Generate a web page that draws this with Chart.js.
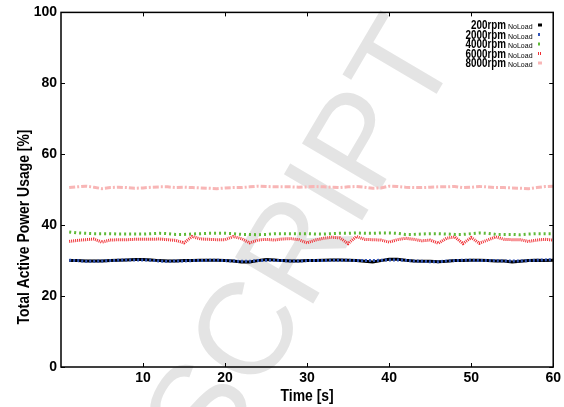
<!DOCTYPE html>
<html>
<head>
<meta charset="utf-8">
<script src="https://cdn.jsdelivr.net/npm/chart.js@4.4.1/dist/chart.umd.min.js"></script>
<style>
html, body { margin: 0; padding: 0; background: #fff; }
</style>
</head>
<body>
<canvas id="graphe" width="564" height="407"></canvas>
<script>
const temps = [1, 2, 3, 4, 5, 6, 7, 8, 9, 10, 11, 12, 13, 14, 15, 16, 17, 18, 19, 20,
    21, 22, 23, 24, 25, 26, 27, 28, 29, 30, 31, 32, 33, 34, 35, 36, 37, 38, 39, 40,
    41, 42, 43, 44, 45, 46, 47, 48, 49, 50, 51, 52, 53, 54, 55, 56, 57, 58, 59, 60]

const rpm200 = [30.0, 30.0, 29.9, 29.9, 29.9, 30.0, 30.1, 30.2, 30.3, 30.3,
    30.2, 30.0, 29.9, 29.9, 30.0, 30.0, 30.1, 30.1, 30.1, 30.0,
    29.9, 29.6, 29.6, 30.0, 30.3, 30.2, 30.0, 29.9, 29.9, 30.0,
    30.0, 30.1, 30.2, 30.2, 30.1, 30.0, 29.8, 29.6, 30.0, 30.4,
    30.4, 30.1, 29.9, 29.8, 29.8, 29.7, 29.8, 30.0, 30.0, 30.1,
    30.1, 30.0, 29.9, 29.9, 29.6, 29.8, 30.0, 30.1, 30.0, 30.1]
const rpm2000 = [30.1, 30.0, 29.8, 29.8, 29.9, 30.0, 30.1, 30.2, 30.2, 30.2,
    30.1, 29.9, 29.8, 29.9, 29.9, 30.0, 30.0, 30.1, 30.1, 30.0,
    29.9, 29.8, 29.8, 30.0, 30.1, 30.1, 30.0, 29.9, 29.9, 30.0,
    30.0, 30.0, 30.1, 30.1, 30.1, 30.0, 30.0, 30.0, 30.1, 30.2,
    30.2, 30.1, 29.9, 29.8, 29.7, 29.7, 29.9, 30.0, 30.1, 30.1,
    30.0, 30.0, 30.0, 29.9, 29.9, 29.9, 30.0, 30.1, 30.2, 30.3]
const rpm4000 = [38.1, 37.8, 37.7, 37.6, 37.6, 37.6, 37.5, 37.5, 37.5, 37.5,
    37.6, 37.7, 37.6, 37.4, 37.4, 37.5, 37.6, 37.7, 37.7, 37.7,
    37.6, 37.4, 37.4, 37.3, 37.4, 37.6, 37.6, 37.6, 37.6, 37.6,
    37.5, 37.5, 37.6, 37.7, 37.7, 37.8, 37.7, 37.7, 37.8, 37.8,
    37.7, 37.4, 37.4, 37.5, 37.6, 37.6, 37.5, 37.4, 37.4, 37.6,
    37.8, 37.7, 37.4, 37.4, 37.4, 37.3, 37.5, 37.6, 37.6, 37.6]
const rpm6000 = [35.4, 35.7, 35.9, 36.1, 35.2, 35.8, 35.9, 35.9, 36.0, 36.0,
    36.0, 36.1, 35.9, 35.7, 35.0, 36.8, 36.1, 36.0, 35.9, 35.9,
    36.8, 36.2, 35.0, 35.8, 36.0, 35.8, 36.1, 36.2, 35.9, 35.0,
    35.8, 36.3, 36.6, 36.4, 34.8, 36.8, 36.0, 35.9, 35.8, 35.2,
    35.9, 36.3, 36.0, 35.6, 35.8, 34.9, 36.3, 36.7, 34.8, 36.5,
    34.9, 35.8, 36.7, 36.0, 35.9, 35.9, 35.4, 35.8, 36.0, 35.8]
const rpm8000 = [50.6, 50.8, 51.0, 50.7, 50.3, 50.6, 50.7, 50.6, 50.4, 50.5,
    50.7, 50.8, 50.8, 50.6, 50.7, 50.6, 50.5, 50.4, 50.3, 50.5,
    50.6, 50.6, 50.8, 51.0, 50.9, 50.8, 50.8, 50.8, 50.7, 50.8,
    50.9, 50.8, 50.7, 50.6, 50.8, 50.9, 50.7, 50.4, 50.5, 51.0,
    50.9, 50.7, 50.6, 50.6, 50.7, 50.8, 50.8, 50.9, 50.6, 50.7,
    50.9, 50.8, 50.6, 50.6, 50.5, 50.4, 50.3, 50.6, 50.9, 51.0]

const noms = ['200rpm', '2000rpm', '4000rpm', '6000rpm', '8000rpm']
const suffixe = 'NoLoad'
const graduations_x = [10, 20, 30, 40, 50, 60]
const graduations_y = [0, 20, 40, 60, 80, 100]

const series = [rpm200, rpm2000, rpm4000, rpm6000, rpm8000]
const couleurs = ['#000000', 'rgb(50, 85, 185)', 'rgb(95, 185, 55)', 'rgb(240, 45, 50)', 'rgb(248, 182, 182)']
const tirets = [[], [2, 2], [2, 3], [1, 1], [6, 2, 2, 2]]
const police = "'Liberation Sans', Arial, sans-serif"

let datasets = []
series.forEach((valeurs, i) => {
    let points = []
    for (let k = 0; k < temps.length; k++) {
        points.push({ x: temps[k], y: valeurs[k] })
    }
    datasets.push({
        label: noms[i],
        data: points,
        borderColor: couleurs[i],
        backgroundColor: couleurs[i],
        borderDash: tirets[i],
        borderWidth: 3,
        borderCapStyle: 'butt',
        pointRadius: 0,
        tension: 0,
        fill: false,
        order: 5 - i
    })
})

// narrow text: the original uses a condensed bold face
function texte_etroit(ctx, txt, x, y) {
    ctx.save()
    ctx.translate(x, y)
    ctx.scale(0.82, 1)
    ctx.fillText(txt, 0, 0)
    ctx.restore()
}

// watermark behind everything
const filigrane = {
    id: 'filigrane',
    beforeDraw(chart) {
        const ctx = chart.ctx
        ctx.save()
        ctx.font = "132px 'Liberation Sans', Arial, sans-serif"
        ctx.fillStyle = '#e4e4e4'
        ctx.translate(243, 330)
        ctx.rotate(-59.5 * Math.PI / 180)
        const avant = ctx.measureText('MANUS').width
        const c = ctx.measureText('C').width
        ctx.textBaseline = 'alphabetic'
        ctx.fillText('MANUSCRIPT', -avant - c / 2, 47)
        ctx.restore()
    }
}

const cadre = {
    id: 'cadre',
    afterDraw(chart) {
        const ctx = chart.ctx
        const a = chart.chartArea
        const sx = chart.scales.x
        const sy = chart.scales.y
        ctx.save()
        ctx.strokeStyle = '#000'
        ctx.lineWidth = 1.5
        ctx.strokeRect(a.left, a.top, a.right - a.left, a.bottom - a.top)
        ctx.lineWidth = 1
        ctx.beginPath()
        graduations_x.forEach(v => {
            const x = Math.round(sx.getPixelForValue(v)) + 0.5
            ctx.moveTo(x, a.bottom); ctx.lineTo(x, a.bottom - 4)
            ctx.moveTo(x, a.top); ctx.lineTo(x, a.top + 4)
        })
        graduations_y.forEach(v => {
            const y = Math.round(sy.getPixelForValue(v)) + 0.5
            ctx.moveTo(a.left, y); ctx.lineTo(a.left + 4, y)
            ctx.moveTo(a.right, y); ctx.lineTo(a.right - 4, y)
        })
        ctx.stroke()

        // axis titles
        ctx.fillStyle = '#000'
        ctx.font = 'bold 17px ' + police
        ctx.textAlign = 'center'
        ctx.textBaseline = 'middle'
        texte_etroit(ctx, 'Time [s]', (a.left + a.right) / 2, 396)
        ctx.save()
        ctx.translate(24, 227)
        ctx.rotate(-Math.PI / 2)
        texte_etroit(ctx, 'Total Active Power Usage [%]', 0, 0)
        ctx.restore()

        // legend
        noms.forEach((nom, i) => {
            const y = 25 + i * 9.5
            ctx.textBaseline = 'alphabetic'
            ctx.textAlign = 'right'
            ctx.font = 'bold 12px ' + police
            texte_etroit(ctx, nom, 506, y + 4)
            ctx.textAlign = 'left'
            ctx.font = '7px ' + police
            ctx.fillText(suffixe, 508, y + 4)
            ctx.strokeStyle = couleurs[i]
            ctx.lineWidth = 3
            ctx.setLineDash(tirets[i])
            ctx.beginPath()
            ctx.moveTo(538, y)
            ctx.lineTo(542, y)
            ctx.stroke()
            ctx.setLineDash([])
        })
        ctx.restore()
    }
}

const ctx = document.getElementById('graphe').getContext('2d')
const myChart = new Chart(ctx, {
    type: 'line',
    data: { datasets: datasets },
    options: {
        responsive: false,
        animation: false,
        layout: { padding: { left: 0, right: 7, top: 12, bottom: 0 } },
        plugins: {
            legend: { display: false },
            tooltip: { enabled: false }
        },
        scales: {
            x: {
                type: 'linear',
                min: 0,
                max: 60,
                grid: { display: false, drawTicks: false },
                border: { display: false },
                ticks: {
                    stepSize: 10,
                    padding: 3,
                    color: '#000',
                    maxRotation: 0,
                    font: { family: police, size: 14, weight: 'bold' },
                    callback: v => (v === 0 ? '' : v)
                },
                afterFit: s => { s.height = 40 }
            },
            y: {
                min: 0,
                max: 100,
                grid: { display: false, drawTicks: false },
                border: { display: false },
                ticks: {
                    stepSize: 20,
                    padding: 4,
                    color: '#000',
                    font: { family: police, size: 14, weight: 'bold' }
                },
                afterFit: s => { s.width = 61 }
            }
        }
    },
    plugins: [filigrane, cadre]
})
</script>
</body>
</html>
